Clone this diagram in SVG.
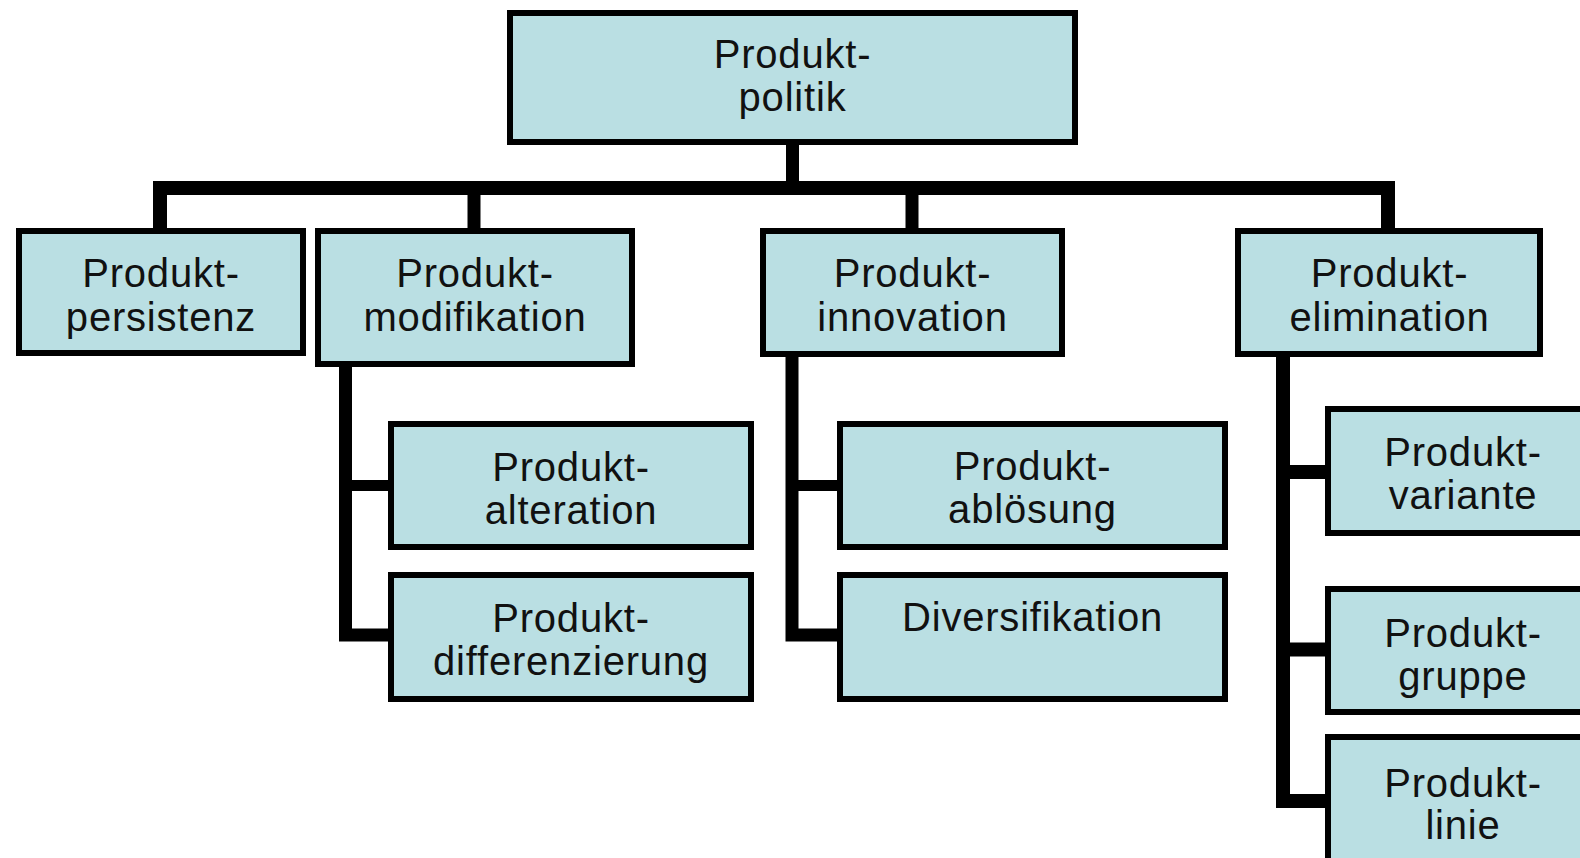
<svg xmlns="http://www.w3.org/2000/svg" width="1580" height="858" viewBox="0 0 1580 858">
  <style>
    .box { fill: #badfe3; stroke: #000; stroke-width: 6; }
    .lbl { font-family: "Liberation Sans", Arial, sans-serif; font-size: 40px; letter-spacing: 0.8px; fill: #111; text-anchor: middle; }
    .wire { fill: none; stroke: #000; stroke-width: 13; stroke-linejoin: miter; stroke-linecap: butt; }
  </style>
  <rect width="1580" height="858" fill="#fff"/>

  <!-- connectors -->
  <g id="connectors">
    <path class="wire" d="M792.5 145 V188"/>
    <path class="wire" style="stroke-width:14" d="M160 228 V188 H1388 V228"/>
    <path class="wire" d="M474 188 V228"/>
    <path class="wire" d="M912 188 V228"/>
    <!-- Produktmodifikation branch -->
    <path class="wire" d="M345.5 367 V635 H388"/>
    <path class="wire" style="stroke-width:11" d="M345.5 485.5 H388"/>
    <!-- Produktinnovation branch -->
    <path class="wire" d="M792 357 V635 H837"/>
    <path class="wire" style="stroke-width:11" d="M792 485.5 H837"/>
    <!-- Produktelimination branch -->
    <path class="wire" style="stroke-width:14" d="M1283 357 V801 H1325"/>
    <path class="wire" style="stroke-width:14" d="M1283 472 H1325"/>
    <path class="wire" style="stroke-width:14" d="M1283 649.5 H1325"/>
  </g>

  <g id="produktpolitik">
    <rect class="box" x="510" y="13" width="565" height="129"/>
    <text class="lbl" x="792.5" y="68">Produkt-</text>
    <text class="lbl" x="792.5" y="111">politik</text>
  </g>

  <g id="produktpersistenz">
    <rect class="box" x="19" y="231" width="284" height="122"/>
    <text class="lbl" x="161" y="287">Produkt-</text>
    <text class="lbl" x="161" y="331">persistenz</text>
  </g>

  <g id="produktmodifikation">
    <rect class="box" x="318" y="231" width="314" height="133"/>
    <line x1="632" y1="228" x2="632" y2="364" stroke="#000" stroke-width="6"/>
    <text class="lbl" x="475" y="287">Produkt-</text>
    <text class="lbl" x="475" y="331">modifikation</text>
  </g>

  <g id="produktinnovation">
    <rect class="box" x="763" y="231" width="299" height="123"/>
    <text class="lbl" x="912.5" y="287">Produkt-</text>
    <text class="lbl" x="912.5" y="331">innovation</text>
  </g>

  <g id="produktelimination">
    <rect class="box" x="1238" y="231" width="302" height="123"/>
    <text class="lbl" x="1389.5" y="287">Produkt-</text>
    <text class="lbl" x="1389.5" y="331">elimination</text>
  </g>

  <g id="produktalteration">
    <rect class="box" x="391" y="424" width="360" height="123"/>
    <text class="lbl" x="571" y="481">Produkt-</text>
    <text class="lbl" x="571" y="524">alteration</text>
  </g>

  <g id="produktdifferenzierung">
    <rect class="box" x="391" y="575" width="360" height="124"/>
    <text class="lbl" x="571" y="632">Produkt-</text>
    <text class="lbl" x="571" y="675">differenzierung</text>
  </g>

  <g id="produktabloesung">
    <rect class="box" x="840" y="424" width="385" height="123"/>
    <text class="lbl" x="1032.5" y="480">Produkt-</text>
    <text class="lbl" x="1032.5" y="523">ablösung</text>
  </g>

  <g id="diversifikation">
    <rect class="box" x="840" y="575" width="385" height="124"/>
    <text class="lbl" x="1032.5" y="631">Diversifikation</text>
  </g>

  <g id="produktvariante">
    <rect class="box" x="1328" y="409" width="280" height="124"/>
    <text class="lbl" x="1463" y="466">Produkt-</text>
    <text class="lbl" x="1463" y="509">variante</text>
  </g>

  <g id="produktgruppe">
    <rect class="box" x="1328" y="589" width="280" height="123"/>
    <text class="lbl" x="1463" y="647">Produkt-</text>
    <text class="lbl" x="1463" y="690">gruppe</text>
  </g>

  <g id="produktlinie">
    <rect class="box" x="1328" y="737" width="280" height="140"/>
    <text class="lbl" x="1463" y="797">Produkt-</text>
    <text class="lbl" x="1463" y="839">linie</text>
  </g>
</svg>
